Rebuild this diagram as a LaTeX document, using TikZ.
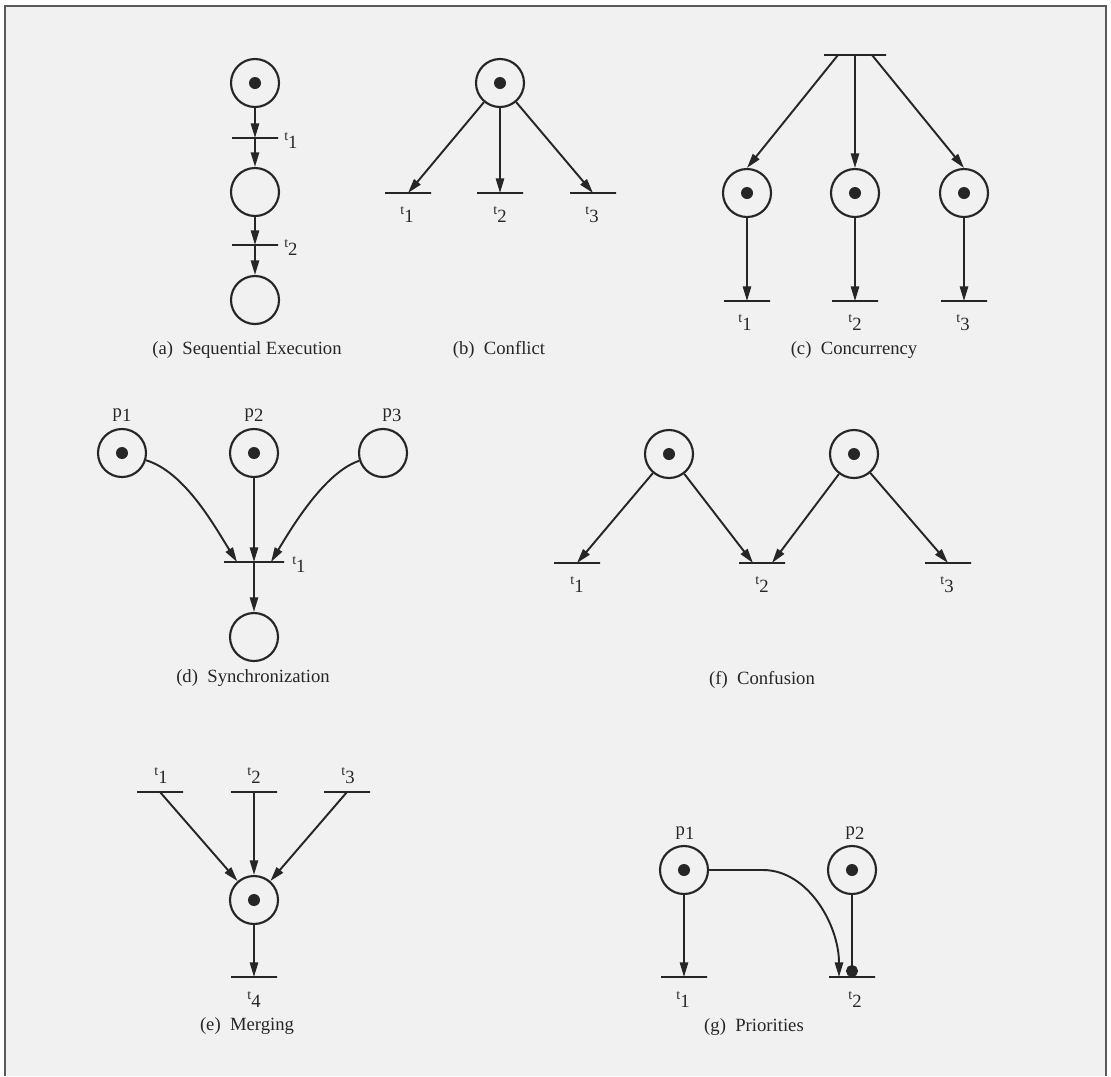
\documentclass[tikz,border=0pt]{standalone}
\usepackage{fontspec}
\setmainfont{Liberation Serif}
\usetikzlibrary{arrows.meta}
\definecolor{ink}{HTML}{262626}
\definecolor{paper}{HTML}{F1F1F1}
\definecolor{framecol}{HTML}{5A5A5A}
\newcommand{\tlab}[1]{{\fontsize{10.5}{12}\selectfont t}\raisebox{-6pt}{#1}}
\newcommand{\plab}[1]{p\raisebox{-3pt}{#1}}
\begin{document}
\begin{tikzpicture}[x=0.75pt,y=-0.75pt,
  font=\fontsize{14}{16}\selectfont,
  plc/.style={circle, draw=ink, line width=1.6pt, minimum size=36pt, inner sep=0pt},
  mplc/.style={plc, path picture={\fill[ink] (path picture bounding box.center) circle (4.5pt);}},
  trn/.style={rectangle, draw=ink, line width=1.6pt, minimum width=34.5pt, minimum height=0pt, inner sep=0pt, outer sep=0pt},
  arr/.style={draw=ink, line width=1.45pt, -{Triangle[length=11pt,width=6.2pt]}},
  inh/.style={draw=ink, line width=1.45pt, -{Circle[length=9pt]}},
  lab/.style={inner sep=0pt, text=ink},
  captxt/.style={inner sep=0pt, text=ink}]
\useasboundingbox (0,0) rectangle (1111,1076);
\fill[white] (0,0) rectangle (1111,1076);
\fill[paper] (5,6) rectangle (1106,1076);
\draw[line width=2.2pt, draw=framecol] (5,1076) -- (5,6) -- (1106,6) -- (1106,1076);

% (a) Sequential execution
\node[mplc] (a1) at (255,83) {};
\node[trn] (at1) at (255,138) {};
\node[plc] (a2) at (255,192) {};
\node[trn] (at2) at (255,245) {};
\node[plc] (a3) at (255,300) {};
\draw[arr] (a1) -- (at1);
\draw[arr] (at1) -- (a2);
\draw[arr] (a2) -- (at2);
\draw[arr] (at2) -- (a3);
\node[lab, anchor=west] (la1) at (284,141) {\tlab{1}};
\node[lab, anchor=west] (la2) at (284,248) {\tlab{2}};
\node[captxt] (capa) at (247,350) {(a)\hspace{0.5em}Sequential Execution};

% (b) Conflict
\node[mplc] (b0) at (500,83) {};
\node[trn] (bt1) at (408,193) {};
\node[trn] (bt2) at (500,193) {};
\node[trn] (bt3) at (593,193) {};
\draw[arr] (b0) -- (bt1);
\draw[arr] (b0) -- (bt2);
\draw[arr] (b0) -- (bt3);
\node[lab] (lb1) at (407,215) {\tlab{1}};
\node[lab] (lb2) at (500,215) {\tlab{2}};
\node[lab] (lb3) at (592,215) {\tlab{3}};
\node[captxt] (capb) at (499,350) {(b)\hspace{0.5em}Conflict};

% (c) Concurrency
\node[trn, minimum width=46.5pt] (c0) at (855,55) {};
\coordinate (c0a) at (838,55);
\coordinate (c0c) at (872,55);
\node[mplc] (c1) at (747,193) {};
\node[mplc] (c2) at (855,193) {};
\node[mplc] (c3) at (964,193) {};
\node[trn] (ct1) at (747,301) {};
\node[trn] (ct2) at (855,301) {};
\node[trn] (ct3) at (964,301) {};
\draw[arr] (c0a) -- (c1.north);
\draw[arr] (c0) -- (c2);
\draw[arr] (c0c) -- (c3.north);
\draw[arr] (c1) -- (ct1);
\draw[arr] (c2) -- (ct2);
\draw[arr] (c3) -- (ct3);
\node[lab] (lc1) at (745,323) {\tlab{1}};
\node[lab] (lc2) at (855,323) {\tlab{2}};
\node[lab] (lc3) at (963,323) {\tlab{3}};
\node[captxt] (capc) at (854,350) {(c)\hspace{0.5em}Concurrency};

% (d) Synchronization
\node[mplc] (d1) at (122,453) {};
\node[mplc] (d2) at (254,453) {};
\node[plc] (d3) at (383,453) {};
\node[trn, minimum width=45pt] (dt) at (254,562) {};
\coordinate (dta) at (237,562);
\coordinate (dtc) at (271,562);
\node[plc] (d4) at (254,637) {};
\draw[arr] (d1) .. controls (185,472) and (215,527) .. (dta);
\draw[arr] (d2) -- (dt);
\draw[arr] (d3) .. controls (325,472) and (292,527) .. (dtc);
\draw[arr] (dt) -- (d4);
\node[lab] (pd1) at (122,415) {\plab{1}};
\node[lab] (pd2) at (254,415) {\plab{2}};
\node[lab] (pd3) at (392,415) {\plab{3}};
\node[lab, anchor=west] (ld1) at (292,565) {\tlab{1}};
\node[captxt] (capd) at (253,678) {(d)\hspace{0.5em}Synchronization};

% (f) Confusion
\node[mplc] (f1) at (669,454) {};
\node[mplc] (f2) at (854,454) {};
\node[trn] (ft1) at (577,563) {};
\node[trn] (ft2) at (762,563) {};
\node[trn] (ft3) at (948,563) {};
\coordinate (ft2a) at (753,563);
\coordinate (ft2b) at (772,563);
\draw[arr] (f1) -- (ft1);
\draw[arr] (f1) -- (ft2a);
\draw[arr] (f2) -- (ft2b);
\draw[arr] (f2) -- (ft3);
\node[lab] (lf1) at (577,585) {\tlab{1}};
\node[lab] (lf2) at (762,585) {\tlab{2}};
\node[lab] (lf3) at (947,585) {\tlab{3}};
\node[captxt] (capf) at (762,680) {(f)\hspace{0.5em}Confusion};

% (e) Merging
\node[trn] (et1) at (160,792) {};
\node[trn] (et2) at (254,792) {};
\node[trn] (et3) at (347,792) {};
\node[mplc] (e0) at (254,900) {};
\node[trn] (et4) at (254,977) {};
\draw[arr] (et1) -- (e0);
\draw[arr] (et2) -- (e0);
\draw[arr] (et3) -- (e0);
\draw[arr] (e0) -- (et4);
\node[lab] (le1) at (161,776) {\tlab{1}};
\node[lab] (le2) at (254,776) {\tlab{2}};
\node[lab] (le3) at (348,776) {\tlab{3}};
\node[lab] (le4) at (254,1000) {\tlab{4}};
\node[captxt] (cape) at (247,1026) {(e)\hspace{0.5em}Merging};

% (g) Priorities
\node[mplc] (g1) at (684,870) {};
\node[mplc] (g2) at (852,870) {};
\node[trn] (gt1) at (684,977) {};
\node[trn] (gt2) at (852,977) {};
\coordinate (gbend) at (763,870);
\coordinate (g2a) at (839,977);
\coordinate (g2b) at (852,977);
\draw[arr] (g1) -- (gt1);
\draw[arr] (g1.east) -- (gbend) .. controls (808,870) and (839,925) .. (g2a);
\draw[inh] (g2) -- (g2b);
\node[lab] (pg1) at (685,833) {\plab{1}};
\node[lab] (pg2) at (855,833) {\plab{2}};
\node[lab] (lg1) at (683,1000) {\tlab{1}};
\node[lab] (lg2) at (855,1000) {\tlab{2}};
\node[captxt] (capg) at (754,1027) {(g)\hspace{0.5em}Priorities};
\end{tikzpicture}
\end{document}
